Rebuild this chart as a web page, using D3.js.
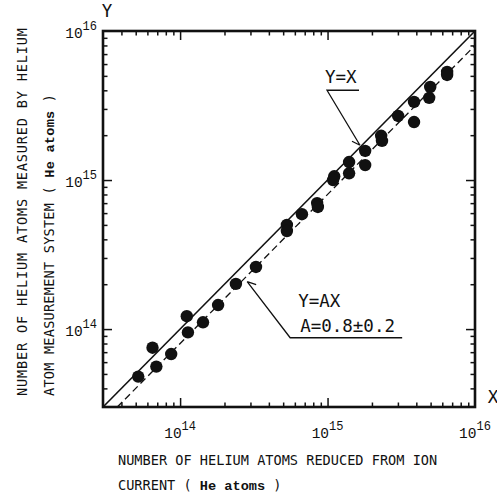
<!DOCTYPE html>
<html>
<head>
<meta charset="utf-8">
<script src="https://cdn.jsdelivr.net/npm/d3@7"></script>
<style>
  body { margin: 0; background: #fff; }
  svg { display: block; }
  .title { font-family: "DejaVu Sans Mono", monospace; font-size: 13.6px; fill: #111; }
  .he { font-family: "Liberation Mono", monospace; font-size: 13.6px; font-weight: bold; fill: #111; }
  .ticklab { font-family: "Liberation Mono", monospace; font-size: 14.5px; fill: #111; }
  .ann { font-family: "DejaVu Sans Mono", monospace; font-size: 17.5px; fill: #111; }
</style>
</head>
<body>
<svg width="497" height="497"></svg>
<script>
// measured (x = from ion current, y = helium atom measurement system), He atoms
const xValues = [5.2e13, 6.5e13, 6.9e13, 8.7e13, 1.11e14, 1.13e14, 1.43e14, 1.81e14, 2.39e14, 3.27e14,
  5.3e14, 5.3e14, 6.7e14, 8.5e14, 8.6e14, 1.11e15, 1.09e15, 1.40e15, 1.40e15, 1.80e15, 1.80e15,
  2.31e15, 2.34e15, 3.01e15, 3.86e15, 3.86e15, 4.89e15, 4.97e15, 6.47e15, 6.47e15];
const yValues = [4.8e13, 7.5e13, 5.6e13, 6.8e13, 1.22e14, 9.5e13, 1.11e14, 1.45e14, 2.01e14, 2.61e14,
  5.0e14, 4.55e14, 5.9e14, 7.0e14, 6.6e14, 1.06e15, 1.0e15, 1.32e15, 1.11e15, 1.57e15, 1.26e15,
  1.98e15, 1.83e15, 2.69e15, 3.34e15, 2.45e15, 3.56e15, 4.21e15, 5.31e15, 5.07e15];
const domain = [3e13, 1e16];
const decades = [14, 15, 16];
const fitA = 0.8;

const svg = d3.select("svg");
const mLeft = 103, mRight = 475, mTop = 31, mBottom = 407;

const x = d3.scaleLog().domain(domain).range([mLeft, mRight]);
const y = d3.scaleLog().domain(domain).range([mBottom, mTop]);

// tick values: 2..9 x 10^n (minor) and 10^n (major)
const minor = [];
for (let e = 13; e <= 15; e++) {
  for (let m = 2; m <= 9; m++) {
    const v = m * Math.pow(10, e);
    if (v > domain[0] && v < domain[1]) minor.push(v);
  }
}
const major = [1e14, 1e15];

function addTicks(axisFn, scale, vals, size, transform) {
  const g = svg.append("g")
    .attr("transform", transform)
    .call(axisFn(scale).tickValues(vals).tickSizeInner(-size).tickSizeOuter(0).tickFormat(""));
  g.select(".domain").remove();
  g.selectAll(".tick line").attr("stroke", "#111").attr("stroke-width", 1.5);
}
[[minor, 4.5], [major, 9]].forEach(([vals, size]) => {
  addTicks(d3.axisBottom, x, vals, size, `translate(0,${mBottom})`);
  addTicks(d3.axisTop, x, vals, size, `translate(0,${mTop})`);
  addTicks(d3.axisLeft, y, vals, size, `translate(${mLeft},0)`);
  addTicks(d3.axisRight, y, vals, size, `translate(${mRight},0)`);
});

// frame
svg.append("rect")
  .attr("x", mLeft).attr("y", mTop)
  .attr("width", mRight - mLeft).attr("height", mBottom - mTop)
  .attr("fill", "none").attr("stroke", "#111").attr("stroke-width", 2.6);

// tick labels 10^n
decades.forEach((d) => {
  const v = Math.pow(10, d);
  const tx = svg.append("text").attr("class", "ticklab")
    .attr("x", x(v)).attr("y", mBottom + 31).attr("text-anchor", "middle");
  tx.append("tspan").text("10");
  tx.append("tspan").attr("dy", -8).attr("font-size", "12px").text(d);

  const ty = svg.append("text").attr("class", "ticklab")
    .attr("x", mLeft - 6).attr("y", y(v) + 7).attr("text-anchor", "end");
  ty.append("tspan").text("10");
  ty.append("tspan").attr("dy", -8).attr("font-size", "12px").text(d);
});

// axis letters
svg.append("text").attr("class", "ann").attr("x", mLeft + 4).attr("y", 17).attr("text-anchor", "middle").text("Y");
svg.append("text").attr("class", "ann").attr("x", mRight + 18).attr("y", mBottom - 4).attr("text-anchor", "middle").text("X");

// Y = X line
const clipLine = d3.line().x((d) => x(d[0])).y((d) => y(d[1]));
svg.append("path")
  .attr("d", clipLine([[domain[0], domain[0]], [domain[1], domain[1]]]))
  .attr("fill", "none").attr("stroke", "#111").attr("stroke-width", 1.6);

// Y = AX dashed line
svg.append("path")
  .attr("d", clipLine([[domain[0] / fitA, domain[0]], [domain[1], domain[1] * fitA]]))
  .attr("fill", "none").attr("stroke", "#111").attr("stroke-width", 1.3)
  .attr("stroke-dasharray", "7,4");

// points
svg.append("g").selectAll("circle")
  .data(xValues.map((v, i) => [v, yValues[i]]))
  .join("circle")
  .attr("cx", (d) => x(d[0]))
  .attr("cy", (d) => y(d[1]))
  .attr("r", 6.2)
  .attr("fill", "#111");

// annotation: Y = X
const tip1 = [x(1.66e15), y(1.66e15) - 2];
svg.append("text").attr("class", "ann").attr("x", tip1[0] - 35).attr("y", tip1[1] - 62).text("Y=X");
svg.append("path")
  .attr("d", `M${tip1[0] - 1},${tip1[1] - 55} H${tip1[0] - 33} L${tip1[0]},${tip1[1]} M${tip1[0] - 8},${tip1[1] - 4} L${tip1[0]},${tip1[1]}`)
  .attr("fill", "none").attr("stroke", "#111").attr("stroke-width", 1.3);

// annotation: Y = AX
const tip2 = [x(2.85e14), y(2.85e14 * fitA) + 6];
svg.append("text").attr("class", "ann").attr("x", tip2[0] + 51).attr("y", tip2[1] + 25).text("Y=AX");
svg.append("text").attr("class", "ann").attr("x", tip2[0] + 53).attr("y", tip2[1] + 50).text("A=0.8±0.2");
svg.append("path")
  .attr("d", `M${tip2[0] + 155},${tip2[1] + 56} H${tip2[0] + 43} L${tip2[0]},${tip2[1]} M${tip2[0] + 9},${tip2[1] + 3} L${tip2[0]},${tip2[1]}`)
  .attr("fill", "none").attr("stroke", "#111").attr("stroke-width", 1.3);

// x axis title
svg.append("text").attr("class", "title").attr("x", 118).attr("y", 465)
  .text("NUMBER OF HELIUM ATOMS REDUCED FROM ION");
const xt2 = svg.append("text").attr("class", "title").attr("x", 118).attr("y", 490);
xt2.append("tspan").text("CURRENT ( ");
xt2.append("tspan").attr("class", "he").text("He atoms");
xt2.append("tspan").text(" )");

// y axis title (rotated)
const yt = svg.append("g").attr("transform", "translate(27,396) rotate(-90)");
yt.append("text").attr("class", "title").attr("x", 0).attr("y", 0)
  .attr("textLength", 368).text("NUMBER OF HELIUM ATOMS MEASURED BY HELIUM");
const yt2 = yt.append("text").attr("class", "title").attr("x", 0).attr("y", 27)
  .attr("textLength", 302);
yt2.append("tspan").text("ATOM MEASUREMENT SYSTEM ( ");
yt2.append("tspan").attr("class", "he").text("He atoms");
yt2.append("tspan").text(" )");
</script>
</body>
</html>
